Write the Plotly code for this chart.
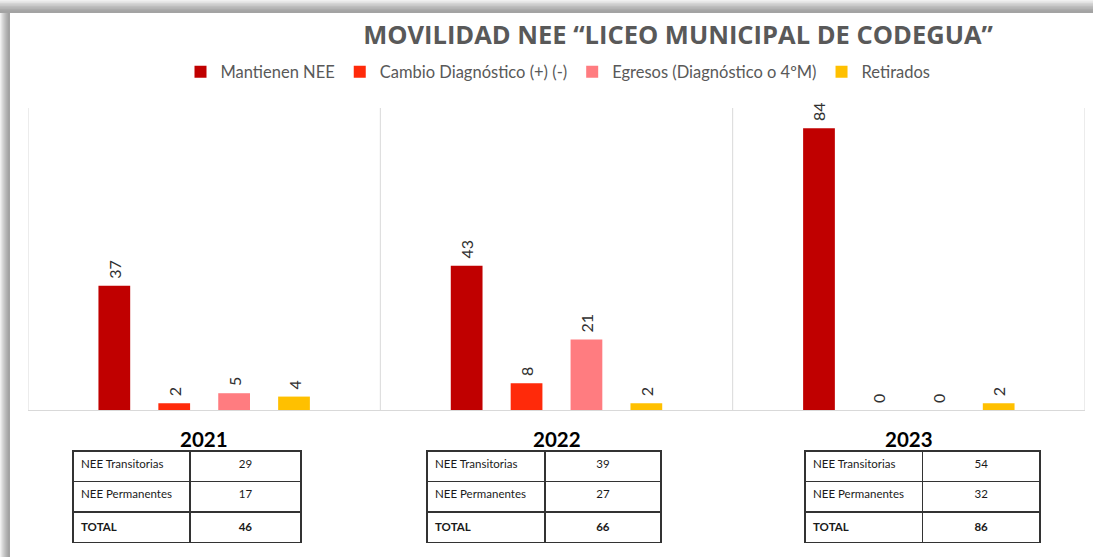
import plotly.graph_objects as go

# ---------------- data ----------------
years = ["2021", "2022", "2023"]
series_names = ["Mantienen NEE", "Cambio Diagnóstico (+) (-)", "Egresos (Diagnóstico o 4ºM)", "Retirados"]
mantienen = [37, 43, 84]
cambio = [2, 8, 0]
egresos = [5, 21, 0]
retirados = [4, 2, 2]

table_labels = ["NEE Transitorias", "NEE Permanentes", "TOTAL"]
transitorias = [29, 39, 54]
permanentes = [17, 27, 32]
totales = [46, 66, 86]

# ---------------- style ----------------
W, H = 1093, 557
FONT = "Lato"
colors = ["#C00000", "#FF2A0A", "#FF7C80", "#FFC000"]
grid_c = "#D9D9D9"

def px_x(x):
    return x / W

def px_y(y):
    return 1 - y / H

fig = go.Figure()
for name, vals, col in zip(series_names, [mantienen, cambio, egresos, retirados], colors):
    fig.add_trace(go.Bar(
        x=years, y=vals, name=name, marker=dict(color=col, line=dict(width=0)),
        text=["\u00a0" + str(v) for v in vals], textposition="outside", textangle=-90,
        textfont=dict(family=FONT, size=16, color="#303030"),
        cliponaxis=False, xaxis="x", yaxis="y",
    ))

# tables
table_x = [(73, 301), (427, 661), (805, 1041)]
col_split = [190, 545, 923]
tfont = dict(family=FONT, size=11.5, color="#1a1a1a")
tline = dict(color="#333333", width=1.5)
for i, yr in enumerate(years):
    x0, x1 = table_x[i]
    w1 = col_split[i] - x0
    w2 = x1 - col_split[i]
    first_vals = [table_labels[0], str(transitorias[i])]
    rest_left = [table_labels[1], "<b>" + table_labels[2] + "</b>"]
    rest_right = [str(permanentes[i]), "<b>" + str(totales[i]) + "</b>"]
    fig.add_trace(go.Table(
        domain=dict(x=[px_x(x0), px_x(x1)], y=[px_y(545), px_y(451)]),
        columnwidth=[w1, w2],
        header=dict(values=first_vals, align=["left", "center"], height=30.5,
                    fill_color="white", line=tline, font=tfont),
        cells=dict(values=[rest_left, rest_right], align=["left", "center"], height=30.5,
                   fill_color="white", line=tline, font=tfont),
    ))

shapes = []
# page shadow (top / left), darkest next to the page edge
n = 8
for k in range(n):
    shapes.append(dict(type="rect", xref="paper", yref="paper", layer="above",
                       x0=0, x1=1, y0=px_y(13), y1=px_y(k * 1.5),
                       fillcolor="rgba(80,80,80,0.085)", line=dict(width=0)))
    shapes.append(dict(type="rect", xref="paper", yref="paper", layer="above",
                       x0=px_x(k * 1.15), x1=px_x(10), y0=0, y1=px_y(13),
                       fillcolor="rgba(80,80,80,0.085)", line=dict(width=0)))

# category separators
for xb in [-0.5, 0.5, 1.5, 2.5]:
    shapes.append(dict(type="line", xref="x", yref="y", x0=xb, x1=xb, y0=0, y1=90,
                       line=dict(color=grid_c, width=1), layer="below"))

annotations = []
for i, yr in enumerate(years):
    annotations.append(dict(xref="x", yref="paper", x=i, y=px_y(439), text="<b>" + yr + "</b>",
                            showarrow=False, font=dict(family=FONT, size=20.5, color="#000000"),
                            xanchor="center", yanchor="middle"))

fig.update_layout(
    width=W, height=H,
    margin=dict(l=0, r=0, t=0, b=0),
    paper_bgcolor="white", plot_bgcolor="white",
    title=dict(text="<b>MOVILIDAD NEE “LICEO MUNICIPAL DE CODEGUA”</b>",
               x=px_x(678), y=px_y(35), xanchor="center", yanchor="middle",
               font=dict(family="Open Sans", size=25.5, color="#595959")),
    barmode="group", bargap=0.32, bargroupgap=0.47,
    xaxis=dict(domain=[px_x(28), px_x(1085)], range=[-0.5, 2.5], type="category",
               showticklabels=False, showgrid=False, zeroline=False,
               showline=True, linecolor=grid_c, linewidth=1, ticks=""),
    yaxis=dict(domain=[px_y(410), px_y(108)], range=[0, 90], showticklabels=False,
               showgrid=False, zeroline=False, showline=False),
    legend=dict(orientation="h", x=px_x(558), y=px_y(72), xanchor="center", yanchor="middle",
                font=dict(family=FONT, size=16.5, color="#595959"), itemwidth=30,
                traceorder="normal"),
    showlegend=True,
    shapes=shapes, annotations=annotations,
    font=dict(family=FONT),
)

fig.write_html("out.html", config={"displayModeBar": False},
               post_script="document.body.style.margin='0px';")
